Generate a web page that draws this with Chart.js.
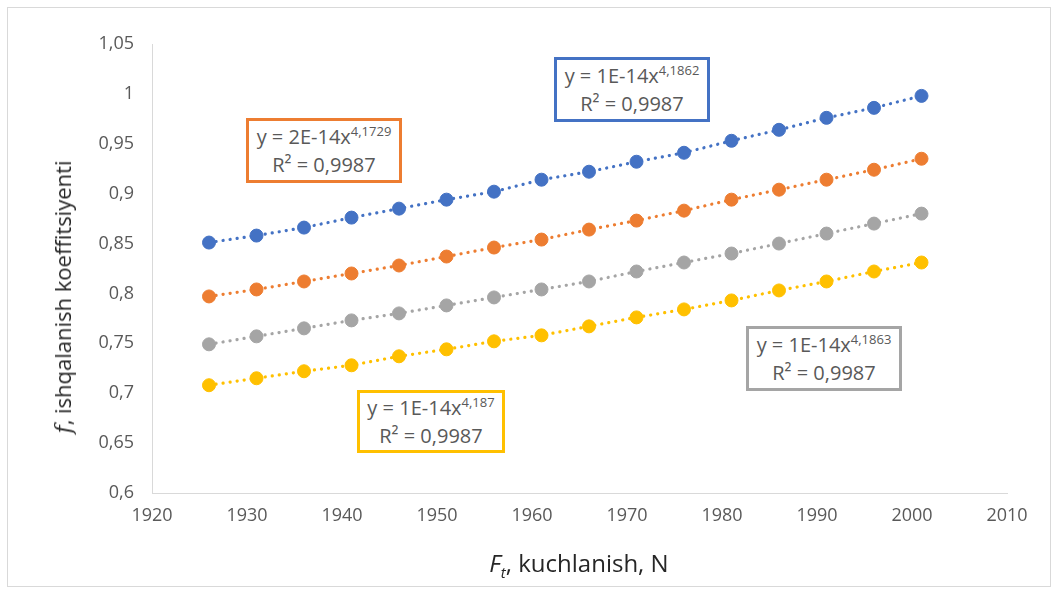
<!DOCTYPE html>
<html>
<head>
<meta charset="utf-8">
<script src="https://cdn.jsdelivr.net/npm/chart.js@4.4.1/dist/chart.umd.min.js"></script>
<style>
    html, body { margin: 0; padding: 0; background: #fff; }
    #wrap { position: relative; width: 1057px; height: 593px; font-family: 'Open Sans', sans-serif; }
    #chart { position: absolute; left: 0; top: 0; }
    .frame { position: absolute; left: 7px; top: 7px; width: 1042px; height: 578px; border: 1px solid #d9d9d9; }
    .ytitle { position: absolute; left: 62px; top: 297px; transform: translate(-50%, -50%) rotate(-90deg);
              white-space: nowrap; font-size: 22px; color: #262626; }
    .xtitle { position: absolute; left: 579px; top: 564px; transform: translate(-50%, -50%);
              white-space: nowrap; font-size: 24px; color: #262626; }
    .xtitle sub { font-size: 15px; }
    .eq { position: absolute; box-sizing: border-box; border: 3px solid; background: #fff;
          display: flex; flex-direction: column; align-items: center; justify-content: center;
          font-size: 20px; line-height: 28px; color: #595959; white-space: nowrap; }
    .eq sup { font-size: 13px; position: relative; top: -8px; vertical-align: baseline; line-height: 0; }
</style>
</head>
<body>
<div id="wrap">
    <div class="frame"></div>
    <canvas id="chart" width="1057" height="593"></canvas>
    <div class="ytitle"><i style="font-family: 'DejaVu Serif', serif;">f</i>, ishqalanish koeffitsiyenti</div>
    <div class="xtitle"><i>F<sub>t</sub></i>, kuchlanish, N</div>
</div>
<script>
// Kuchlanish qiymatlari (N)
const forceValues = [1926, 1931, 1936, 1941, 1946, 1951, 1956, 1961, 1966, 1971, 1976, 1981, 1986, 1991, 1996, 2001];

// Ishqalanish koeffitsiyenti, har bir qator uchun
const series1 = [0.851, 0.858, 0.866, 0.876, 0.885, 0.894, 0.902, 0.914, 0.922, 0.932, 0.941, 0.953, 0.964, 0.976, 0.986, 0.998];
const series2 = [0.797, 0.804, 0.812, 0.820, 0.828, 0.837, 0.846, 0.854, 0.864, 0.873, 0.883, 0.894, 0.904, 0.914, 0.924, 0.935];
const series3 = [0.749, 0.757, 0.765, 0.773, 0.780, 0.788, 0.796, 0.804, 0.812, 0.822, 0.831, 0.840, 0.850, 0.860, 0.870, 0.880];
const series4 = [0.708, 0.715, 0.722, 0.728, 0.737, 0.744, 0.752, 0.758, 0.767, 0.776, 0.784, 0.793, 0.803, 0.812, 0.822, 0.831];

const seriesNames = ['1-qator', '2-qator', '3-qator', '4-qator'];
const seriesColors = ['#4472C4', '#ED7D31', '#A5A5A5', '#FFC000'];

// Trend tenglamalari (daraja funksiyasi)
const trendCoefs = ['1E-14', '2E-14', '1E-14', '1E-14'];
const trendPowers = ['4,1862', '4,1729', '4,1863', '4,187'];
const trendR2 = ['0,9987', '0,9987', '0,9987', '0,9987'];

// Tenglama oynalarining joylashuvi
const eqBoxes = [
    { left: 554, top: 57, width: 156, height: 65 },
    { left: 246, top: 118, width: 156, height: 65 },
    { left: 746, top: 326, width: 156, height: 65 },
    { left: 357, top: 390, width: 148, height: 63 }
];

const allSeries = [series1, series2, series3, series4];

const datasets = allSeries.map(function(values, i) {
    return {
        label: seriesNames[i],
        data: values.map(function(v, j) { return { x: forceValues[j], y: v }; }),
        showLine: true,
        borderColor: seriesColors[i],
        borderWidth: 3.2,
        borderDash: [0.1, 7],
        borderCapStyle: 'round',
        backgroundColor: seriesColors[i],
        pointRadius: 6.5,
        pointBorderWidth: 1,
        pointBorderColor: seriesColors[i],
        pointBackgroundColor: seriesColors[i]
    };
});

function formatComma(v) {
    return String(Math.round(v * 100) / 100).replace('.', ',');
}

Chart.defaults.font.family = "'Open Sans', sans-serif";

new Chart(document.getElementById('chart'), {
    type: 'scatter',
    data: { datasets: datasets },
    options: {
        responsive: false,
        animation: false,
        devicePixelRatio: 1,
        layout: { padding: { left: 0, top: 44, right: 50, bottom: 0 } },
        plugins: {
            legend: { display: false },
            tooltip: { enabled: false }
        },
        scales: {
            x: {
                type: 'linear',
                min: 1920,
                max: 2010,
                ticks: { stepSize: 10, color: '#595959', font: { size: 18 }, padding: 12,
                         callback: function(v) { return String(v); } },
                grid: { display: false, drawTicks: false },
                border: { display: true, color: '#d9d9d9', width: 1 },
                afterFit: function(scale) { scale.height = 100; }
            },
            y: {
                min: 0.6,
                max: 1.05,
                ticks: { stepSize: 0.05, color: '#595959', font: { size: 18 }, padding: 18,
                         callback: function(v) { return formatComma(v); } },
                grid: { display: false, drawTicks: false },
                border: { display: true, color: '#d9d9d9', width: 1 },
                afterFit: function(scale) { scale.width = 152; }
            }
        }
    }
});

// Tenglama oynalarini chizish
const wrap = document.getElementById('wrap');
eqBoxes.forEach(function(box, i) {
    const el = document.createElement('div');
    el.className = 'eq';
    el.style.left = box.left + 'px';
    el.style.top = box.top + 'px';
    el.style.width = box.width + 'px';
    el.style.height = box.height + 'px';
    el.style.borderColor = seriesColors[i];
    el.innerHTML = '<div>y = ' + trendCoefs[i] + 'x<sup>' + trendPowers[i] + '</sup></div>' +
                   '<div>R² = ' + trendR2[i] + '</div>';
    wrap.appendChild(el);
});
</script>
</body>
</html>
